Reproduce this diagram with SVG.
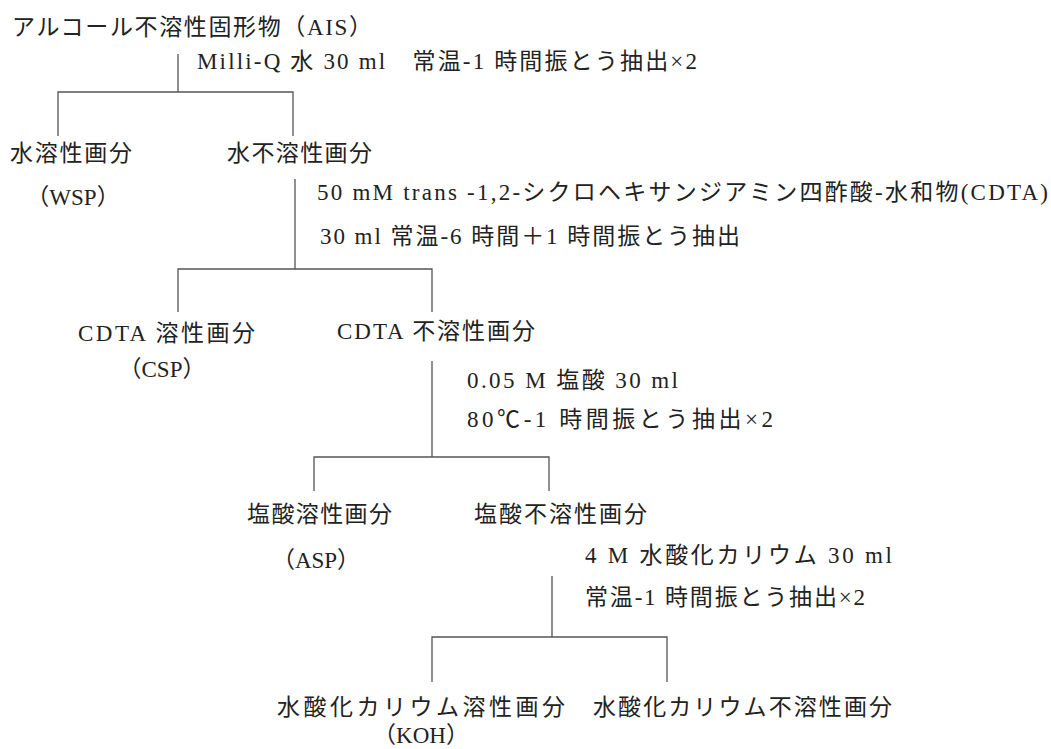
<svg xmlns="http://www.w3.org/2000/svg" width="1051" height="749" viewBox="0 0 1051 749">
<style>
text{font-family:"Liberation Serif","Noto Sans CJK JP",serif;font-size:23px;fill:#222;}
.p{text-anchor:middle;}
.c{stroke:#555;stroke-width:1.3;fill:none;}
</style>
<rect width="1051" height="749" fill="#fff"/>
<g id="connectors">
<path class="c" d="M178,54V92M58,136V92H293V136"/>
<path class="c" d="M295,179V269M178,312V269H432V312"/>
<path class="c" d="M432,361V457M314,491V457H549V491"/>
<path class="c" d="M552,576V637M432,682V637H667V682"/>
</g>
<g id="ais"><text x="12" y="35" textLength="360" lengthAdjust="spacing">アルコール不溶性固形物（AIS）</text></g>
<g id="step1"><text x="197" y="69" textLength="500" lengthAdjust="spacing">Milli-Q 水  30 ml　常温-1 時間振とう抽出×2</text></g>
<g id="wsp"><text x="10" y="161" textLength="122" lengthAdjust="spacing">水溶性画分</text>
<text class="p" x="73" y="205">（WSP）</text></g>
<g id="water-insoluble"><text x="227" y="161" textLength="145" lengthAdjust="spacing">水不溶性画分</text></g>
<g id="step2"><text x="317" y="200" textLength="731" lengthAdjust="spacing">50 mM trans -1,2-シクロヘキサンジアミン四酢酸-水和物(CDTA)</text>
<text x="320" y="244" textLength="420" lengthAdjust="spacing">30 ml 常温-6 時間＋1 時間振とう抽出</text></g>
<g id="csp"><text x="78" y="341" textLength="177" lengthAdjust="spacing">CDTA 溶性画分</text>
<text class="p" x="162" y="377">（CSP）</text></g>
<g id="cdta-insoluble"><text x="337" y="339" textLength="198" lengthAdjust="spacing">CDTA 不溶性画分</text></g>
<g id="step3"><text x="467" y="388" textLength="211" lengthAdjust="spacing">0.05 M 塩酸  30 ml</text>
<text x="467" y="427" textLength="306" lengthAdjust="spacing">80℃-1 時間振とう抽出×2</text></g>
<g id="asp"><text x="247" y="522" textLength="145" lengthAdjust="spacing">塩酸溶性画分</text>
<text class="p" x="316" y="568">（ASP）</text></g>
<g id="hcl-insoluble"><text x="474" y="522" textLength="173" lengthAdjust="spacing">塩酸不溶性画分</text></g>
<g id="step4"><text x="585" y="563" textLength="307" lengthAdjust="spacing">4 M  水酸化カリウム  30 ml</text>
<text x="585" y="605" textLength="280" lengthAdjust="spacing">常温-1 時間振とう抽出×2</text></g>
<g id="koh"><text x="277" y="715" textLength="288" lengthAdjust="spacing">水酸化カリウム溶性画分</text>
<text class="p" x="421" y="743">（KOH）</text></g>
<g id="koh-insoluble"><text x="593" y="715" textLength="299" lengthAdjust="spacing">水酸化カリウム不溶性画分</text></g>
</svg>
